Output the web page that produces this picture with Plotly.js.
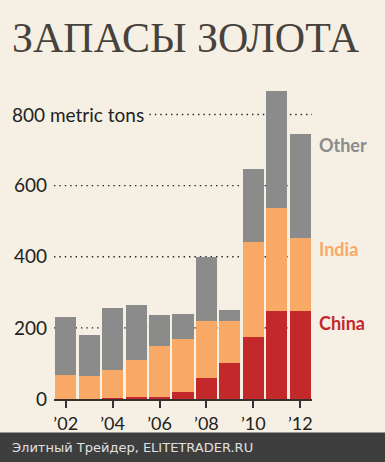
<!DOCTYPE html>
<html><head><meta charset="utf-8">
<script src="https://cdn.plot.ly/plotly-3.0.1.min.js"></script>
<style>html,body{margin:0;padding:0;background:#f6f0e4;}#chart{width:385px;height:462px;}</style>
</head><body><div id="chart"></div>
<script>
const years = [2002,2003,2004,2005,2006,2007,2008,2009,2010,2011,2012];
const china = [0,0,4,7,7,20,59,100,175,248,247];
const india = [67,65,78,103,143,148,160,118,266,288,206];
const other = [164,115,173,154,85,70,179,31,205,330,293];
const tickYears = [2002,2004,2006,2008,2010,2012];
const tickYearLabels = ["’02","’04","’06","’08","’10","’12"];
const yTicks = [0,200,400,600];
const yTickLabels = ["0","200","400","600"];
const gridVals = [200,400,600,800];

const sans = "Lato, 'Open Sans', sans-serif";
const traces = [
  {type:'bar', x:years, y:china, name:'China', marker:{color:'#c3282b'}},
  {type:'bar', x:years, y:india, name:'India', marker:{color:'#f8a966'}},
  {type:'bar', x:years, y:other, name:'Other', marker:{color:'#8b8b8b'}}
];
const shapes = gridVals.map(v => ({
  type:'line', xref:'paper', yref:'y', layer:'below',
  x0: v===800 ? 0.37 : 0, x1: 1.0, y0:v, y1:v,
  line:{color:'#222', width:1.4, dash:'1.4px,4px'}
}));
shapes.push({type:'rect', xref:'paper', yref:'paper', x0:-0.22, x1:1.3, y0:-0.197, y1:-0.105,
  fillcolor:'#3e3e3e', line:{width:0}, layer:'above'});
const layout = {
  width:385, height:462,
  margin:{l:54, r:73, t:79, b:63},
  paper_bgcolor:'#f6f0e4', plot_bgcolor:'#f6f0e4',
  barmode:'stack', bargap:0.1, showlegend:false,
  xaxis:{range:[2001.5,2012.5], tickvals:tickYears, ticktext:tickYearLabels,
    ticks:'outside', ticklen:7, tickwidth:2, tickcolor:'#333',
    showline:true, linecolor:'#3a2e2e', linewidth:2, showgrid:false, zeroline:false,
    tickfont:{family:sans, size:18, color:'#222'}, fixedrange:true},
  yaxis:{range:[0,900], tickvals:yTicks, ticktext:yTickLabels, showgrid:false, zeroline:false,
    ticks:'', tickfont:{family:sans, size:19, color:'#222'}, ticklabelstandoff:6},
  shapes:shapes,
  annotations:[
    {text:'ЗАПАСЫ ЗОЛОТА', xref:'paper', yref:'paper', x:-0.172, y:1.128, xanchor:'left', yanchor:'middle',
      showarrow:false, font:{family:"'Liberation Serif', 'DejaVu Serif', serif", size:42, color:'#47423d'}},
    {text:'800 metric tons', xref:'paper', yref:'y', x:0.355, y:800, xanchor:'right', yanchor:'middle',
      showarrow:false, font:{family:sans, size:19, color:'#222'}},
    {text:'<b>Other</b>', xref:'paper', yref:'y', x:1.02, y:714, xanchor:'left', yanchor:'middle',
      showarrow:false, font:{family:sans, size:18, color:'#8b8b8b'}},
    {text:'<b>India</b>', xref:'paper', yref:'y', x:1.02, y:422, xanchor:'left', yanchor:'middle',
      showarrow:false, font:{family:sans, size:18, color:'#f8a966'}},
    {text:'<b>China</b>', xref:'paper', yref:'y', x:1.02, y:215, xanchor:'left', yanchor:'middle',
      showarrow:false, font:{family:sans, size:18, color:'#c3282b'}},
    {text:'Элитный Трейдер, ELITETRADER.RU', xref:'paper', yref:'paper', x:-0.17, y:-0.152, xanchor:'left', yanchor:'middle',
      showarrow:false, font:{family:"'DejaVu Sans', sans-serif", size:13, color:'#e0e0e0'}}
  ]
};
Plotly.newPlot('chart', traces, layout, {displayModeBar:false, staticPlot:true});
</script></body></html>
